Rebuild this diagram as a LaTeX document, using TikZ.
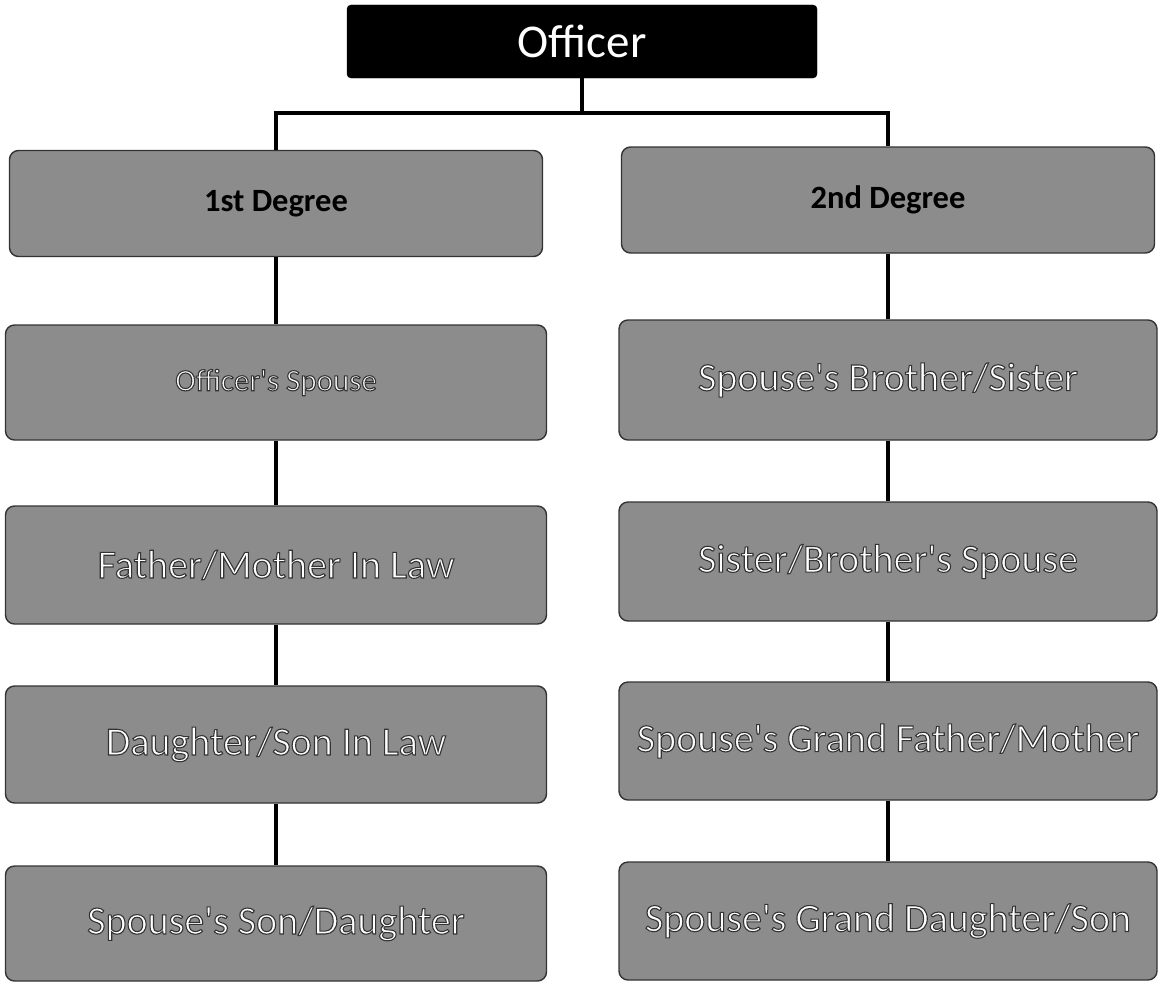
\documentclass[tikz,border=0pt]{standalone}
\usepackage{fontspec}
\setmainfont{Carlito}
\newcommand\outlinedtext[1]{\special{pdf:literal direct 2 Tr 1.1 w 0.2 0.2 0.2 RG}#1\special{pdf:literal direct 0 Tr}}
\newcommand\apos{\textquotesingle}
\begin{document}
\begin{tikzpicture}[x=1pt,y=-1pt,
  box/.style={draw=black!80, line width=1.4pt, fill=black!45, rounded corners=9pt,
    minimum width=541pt, minimum height=116pt, inner sep=0pt, text=white,
    font=\fontsize{40}{46}\selectfont},
  headbox/.style={box, minimum width=533pt, minimum height=106pt, text=black,
    font=\fontsize{32.5}{38}\selectfont\bfseries},
  topbox/.style={draw=black, fill=black, rounded corners=4pt, minimum width=470pt,
    minimum height=73pt, inner sep=0pt, text=white, font=\fontsize{47}{52}\selectfont},
  link/.style={draw=black, line width=4.2pt}]
\useasboundingbox (0,0) rectangle (1158,982);

\node[topbox] (officer) at (582,41.5) {Officer};

\node[headbox] (deg1) at (276,203.5) {1st Degree};
\node[headbox] (deg2) at (888,200) {2nd Degree};

\node[box, minimum height=115pt, font=\fontsize{31}{36}\selectfont] (l1) at (276,382.5) {\outlinedtext{Officer\apos s Spouse}};
\node[box, minimum height=118pt] (l2) at (276,565) {\outlinedtext{Father/Mother In Law}};
\node[box, minimum height=117pt] (l3) at (276,744.5) {\outlinedtext{Daughter/Son In Law}};
\node[box, minimum height=115pt] (l4) at (276,923.5) {\outlinedtext{Spouse\apos s Son/Daughter}};

\node[box, minimum width=538pt, minimum height=120pt] (r1) at (888,380) {\outlinedtext{Spouse\apos s Brother/Sister}};
\node[box, minimum width=538pt, minimum height=119pt] (r2) at (888,561.5) {\outlinedtext{Sister/Brother\apos s Spouse}};
\node[box, minimum width=538pt, minimum height=118pt] (r3) at (888,741) {\outlinedtext{Spouse\apos s Grand Father/Mother}};
\node[box, minimum width=538pt, minimum height=118pt] (r4) at (888,921) {\outlinedtext{Spouse\apos s Grand Daughter/Son}};

\coordinate (hub) at (582,113);
\draw[link] (officer.south) -- (hub);
\draw[link] (hub) -| (deg1.north);
\draw[link] (hub) -| (deg2.north);

\draw[link] (deg1) -- (l1);
\draw[link] (l1) -- (l2);
\draw[link] (l2) -- (l3);
\draw[link] (l3) -- (l4);

\draw[link] (deg2) -- (r1);
\draw[link] (r1) -- (r2);
\draw[link] (r2) -- (r3);
\draw[link] (r3) -- (r4);
\end{tikzpicture}
\end{document}
